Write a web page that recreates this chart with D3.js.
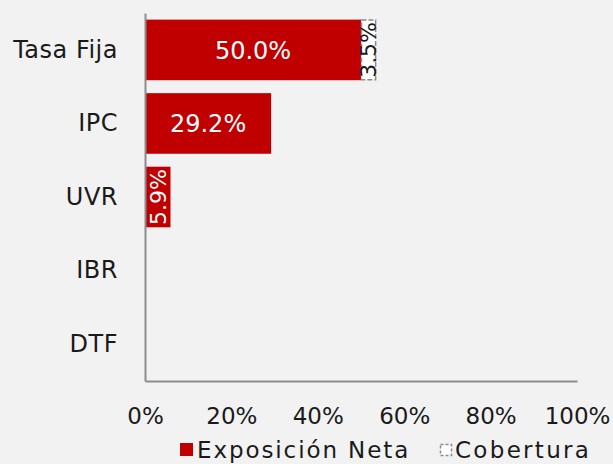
<!DOCTYPE html>
<html>
<head>
<meta charset="utf-8">
<script src="https://cdn.jsdelivr.net/npm/d3@7"></script>
<style>
body { margin: 0; background: #f2f2f2; }
svg { display: block; font-family: "DejaVu Sans", sans-serif; }
</style>
</head>
<body>
<svg></svg>
<script>
var categories = ["Tasa Fija", "IPC", "UVR", "IBR", "DTF"];
var exposicion = [50.0, 29.2, 5.9, 0, 0];
var cobertura = [3.5, 0, 0, 0, 0];
var ticks = [0, 20, 40, 60, 80, 100];

var screen = {width: 613, height: 464};
var font = "DejaVu Sans, sans-serif";

var svg = d3.select("svg")
    .attr("width", screen.width)
    .attr("height", screen.height);

var xScale = d3.scaleLinear()
    .domain([0, 100])
    .range([145, 577]);

var yScale = d3.scaleBand()
    .domain(categories)
    .range([13, 381])
    .paddingInner(0.176)
    .paddingOuter(0.09);

// exposicion bars
svg.selectAll("rect.exp")
    .data(categories)
    .enter()
    .append("rect")
    .attr("class", "exp")
    .attr("x", xScale(0))
    .attr("y", function(d){return yScale(d);})
    .attr("width", function(d, i){return xScale(exposicion[i]) - xScale(0);})
    .attr("height", yScale.bandwidth())
    .attr("fill", "#c00000")
    .style("display", function(d, i){return exposicion[i] > 0 ? null : "none";});

// cobertura stacked on top
svg.selectAll("rect.cob")
    .data(categories)
    .enter()
    .append("rect")
    .attr("class", "cob")
    .attr("x", function(d, i){return xScale(exposicion[i]) + 0.5;})
    .attr("y", function(d){return yScale(d) + 0.5;})
    .attr("width", function(d, i){return xScale(exposicion[i] + cobertura[i]) - xScale(exposicion[i]) - 1;})
    .attr("height", yScale.bandwidth() - 1)
    .attr("fill", "#ffffff")
    .attr("stroke", "#8c8c8c")
    .attr("stroke-width", 1.5)
    .attr("stroke-dasharray", "5,2")
    .style("display", function(d, i){return cobertura[i] > 0 ? null : "none";});

// labels
categories.forEach(function(c, i)
{
    var cy = yScale(c) + yScale.bandwidth() / 2;
    var w = xScale(exposicion[i]) - xScale(0);
    if (exposicion[i] > 0)
    {
        var t = svg.append("text")
            .attr("dy", "0.36em")
            .attr("text-anchor", "middle")
            .attr("fill", "#ffffff")
            .text(exposicion[i].toFixed(1) + "%");
        if (w > 80)
            t.attr("x", xScale(exposicion[i] / 2)).attr("y", cy).attr("font-size", 24);
        else
            t.attr("transform", "translate(" + xScale(exposicion[i] / 2) + "," + cy + ") rotate(-90)")
                .attr("font-size", 22);
    }
    if (cobertura[i] > 0)
    {
        svg.append("text")
            .attr("transform", "translate(" + xScale(exposicion[i] + cobertura[i] / 2) + "," + cy + ") rotate(-90)")
            .attr("dy", "0.36em")
            .attr("text-anchor", "middle")
            .attr("fill", "#1a1a1a")
            .attr("font-size", 22)
            .text(cobertura[i].toFixed(1) + "%");
    }
});

// axes
var yAxis = d3.axisLeft(yScale).tickSize(0).tickPadding(27);
var yG = svg.append("g")
    .attr("transform", "translate(" + xScale(0) + ",0)")
    .call(yAxis);
yG.select(".domain").attr("stroke", "#8c8c8c").attr("stroke-width", 2);
yG.selectAll("text").attr("font-size", 24).attr("fill", "#1a1a1a")
    .attr("font-family", font).style("letter-spacing", "0.5px");

var xAxis = d3.axisBottom(xScale).tickValues(ticks).tickSize(0).tickPadding(27)
    .tickFormat(function(d){return d + "%";});
var xG = svg.append("g")
    .attr("transform", "translate(0,381)")
    .call(xAxis);
xG.select(".domain").attr("stroke", "#8c8c8c").attr("stroke-width", 2);
xG.selectAll("text").attr("font-size", 23).attr("fill", "#1a1a1a").attr("font-family", font);

// legend
var legend = svg.append("g").attr("transform", "translate(0,450)");
legend.append("rect")
    .attr("x", 180).attr("y", -7).attr("width", 13).attr("height", 13)
    .attr("fill", "#c00000");
legend.append("text")
    .attr("x", 197).attr("y", 0).attr("dy", "0.36em")
    .attr("font-size", 23).attr("fill", "#1a1a1a")
    .style("letter-spacing", "1.9px")
    .text("Exposición Neta");
legend.append("rect")
    .attr("x", 440.5).attr("y", -5.5).attr("width", 11).attr("height", 11)
    .attr("fill", "#ffffff").attr("stroke", "#8c8c8c").attr("stroke-width", 1.5)
    .attr("stroke-dasharray", "3,2");
legend.append("text")
    .attr("x", 455).attr("y", 0).attr("dy", "0.36em")
    .attr("font-size", 23).attr("fill", "#1a1a1a")
    .style("letter-spacing", "2.3px")
    .text("Cobertura");
</script>
</body>
</html>
